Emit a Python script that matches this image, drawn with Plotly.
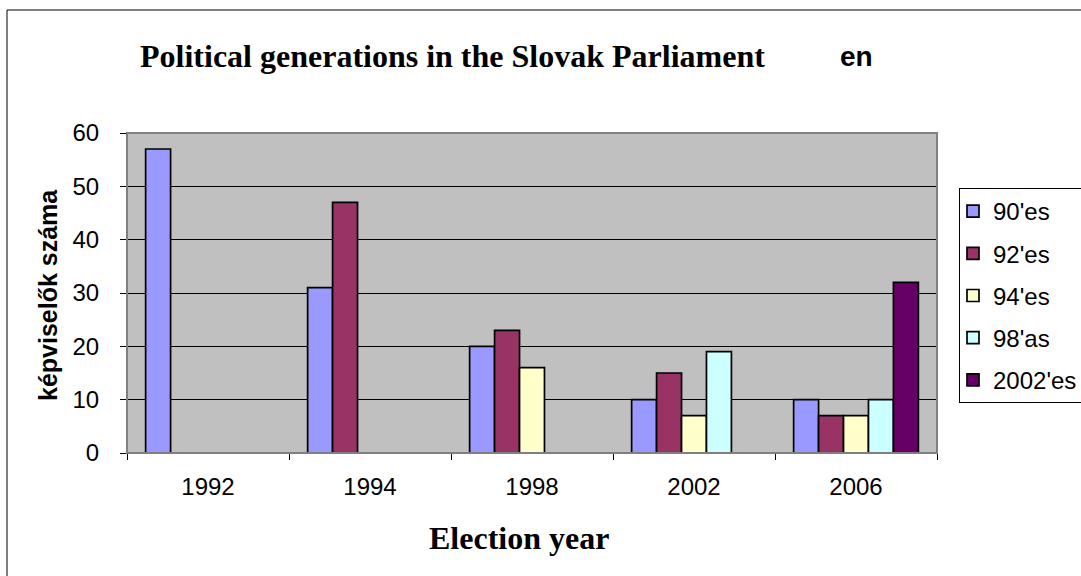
import plotly.graph_objects as go

# Election years (categories) and number of MPs per political generation
years = ["1992", "1994", "1998", "2002", "2006"]
gen_90 = [57, 31, 20, 10, 10]
gen_92 = [None, 47, 23, 15, 7]
gen_94 = [None, None, 16, 7, 7]
gen_98 = [None, None, None, 19, 10]
gen_2002 = [None, None, None, None, 32]

series_names = ["90'es", "92'es", "94'es", "98'as", "2002'es"]
series_values = [gen_90, gen_92, gen_94, gen_98, gen_2002]
series_colors = ["#9999FF", "#993366", "#FFFFCC", "#CCFFFF", "#660066"]

y_ticks = [0, 10, 20, 30, 40, 50, 60]

SANS = "Liberation Sans, Arial, sans-serif"
SERIF = "Liberation Serif, Times New Roman, serif"

# plot-area geometry in pixels (used to convert to paper coords)
W, H = 1081, 576
L, R, T, B = 127, 937, 133, 453


def px(x):
    return (x - L) / (R - L)


def py(y):
    return (B - y) / (B - T)


fig = go.Figure()
for i, (name, vals, col) in enumerate(zip(series_names, series_values, series_colors)):
    fig.add_trace(go.Bar(
        x=years, y=vals, name=name, legendgroup=f"g{i}",
        marker=dict(color=col, line=dict(color="black", width=1.7)),
    ))

fig.update_layout(
    width=W, height=H,
    margin=dict(l=L, r=W - R, t=T, b=H - B, pad=0, autoexpand=False),
    paper_bgcolor="white",
    plot_bgcolor="#C0C0C0",
    barmode="group",
    bargap=0.23,
    bargroupgap=0,
    font=dict(family=SANS, size=24, color="black"),
    showlegend=True,
    legend=dict(
        x=px(959), y=py(188), xanchor="left", yanchor="top",
        bgcolor="white", bordercolor="black", borderwidth=1,
        font=dict(family=SANS, size=24, color="black"),
        tracegroupgap=8, traceorder="grouped", indentation=-7,
    ),
    xaxis=dict(
        type="category", tickson="boundaries",
        ticks="outside", ticklen=6, tickcolor="black", tickwidth=1,
        showline=True, linecolor="black", linewidth=1,
        showgrid=False, ticklabelstandoff=12,
        tickfont=dict(family=SANS, size=24),
    ),
    yaxis=dict(
        range=[0, 60], tickvals=y_ticks,
        ticks="outside", ticklen=6, tickcolor="black", tickwidth=1,
        showline=True, linecolor="black", linewidth=1,
        showgrid=True, gridcolor="black", gridwidth=1,
        zeroline=False, ticklabelstandoff=16,
        tickfont=dict(family=SANS, size=24),
    ),
    shapes=[
        # outer chart frame
        dict(type="rect", xref="paper", yref="paper",
             x0=px(7), x1=px(1200), y0=py(10), y1=py(700),
             line=dict(color="black", width=1), fillcolor="rgba(0,0,0,0)", layer="below"),
        # plot-area border
        dict(type="rect", xref="paper", yref="paper",
             x0=0, x1=1, y0=0, y1=1,
             line=dict(color="#808080", width=2), fillcolor="rgba(0,0,0,0)", layer="above"),
    ],
    annotations=[
        dict(text="Political generations in the Slovak Parliament",
             xref="paper", yref="paper", x=px(138), y=py(56),
             xanchor="left", yanchor="middle", showarrow=False,
             font=dict(family=SERIF, size=32, color="black", weight="bold")),
        dict(text="en", xref="paper", yref="paper", x=px(838), y=py(57),
             xanchor="left", yanchor="middle", showarrow=False,
             font=dict(family=SANS, size=28, color="black", weight="bold")),
        dict(text="Election year", xref="paper", yref="paper", x=px(518.5), y=py(537.5),
             xanchor="center", yanchor="middle", showarrow=False,
             font=dict(family=SERIF, size=32, color="black", weight="bold")),
        dict(text="képviselők száma", xref="paper", yref="paper", x=px(48), y=py(295),
             xanchor="center", yanchor="middle", showarrow=False, textangle=-90,
             font=dict(family=SANS, size=25, color="black", weight="bold")),
    ],
)

fig.write_html("out.html")
